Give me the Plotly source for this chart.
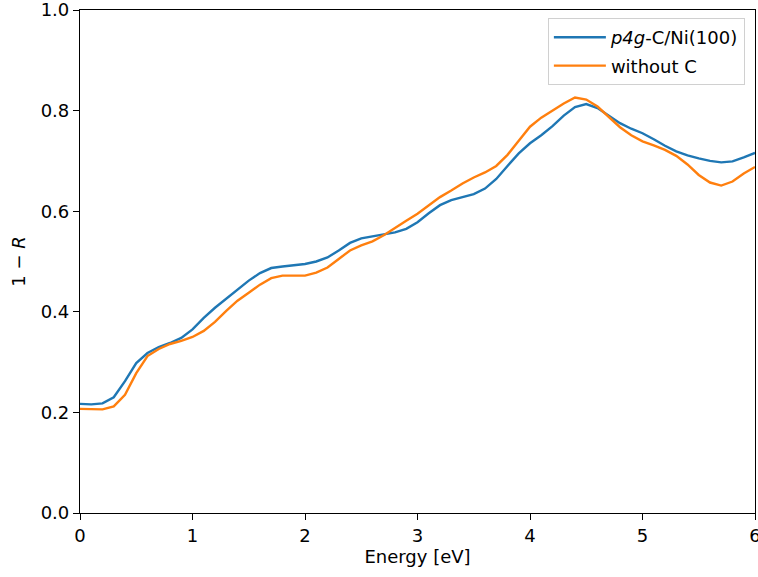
import plotly.graph_objects as go

energy = [round(0.1 * i, 1) for i in range(61)]

p4g_c_ni100 = [
    0.217, 0.216, 0.218, 0.230, 0.262, 0.298, 0.318, 0.330, 0.338, 0.348,
    0.365, 0.388, 0.408, 0.426, 0.444, 0.462, 0.477, 0.487, 0.490, 0.492,
    0.495, 0.500, 0.508, 0.522, 0.537, 0.546, 0.550, 0.554, 0.558, 0.565,
    0.578, 0.596, 0.612, 0.622, 0.628, 0.634, 0.645, 0.664, 0.690, 0.715,
    0.735, 0.751, 0.769, 0.790, 0.807, 0.813, 0.805, 0.790, 0.775, 0.764,
    0.755, 0.743, 0.730, 0.719, 0.711, 0.705, 0.700, 0.697, 0.699, 0.707,
    0.716,
]

without_c = [
    0.207, 0.206, 0.206, 0.212, 0.235, 0.278, 0.312, 0.326, 0.336, 0.342,
    0.350, 0.362, 0.380, 0.402, 0.422, 0.438, 0.454, 0.467, 0.472, 0.472,
    0.472, 0.478, 0.488, 0.505, 0.522, 0.532, 0.540, 0.552, 0.567, 0.581,
    0.595, 0.612, 0.628, 0.641, 0.655, 0.667, 0.677, 0.690, 0.712, 0.740,
    0.768, 0.786, 0.800, 0.814, 0.826, 0.822, 0.808, 0.787, 0.767, 0.751,
    0.739, 0.731, 0.722, 0.710, 0.693, 0.672, 0.657, 0.651, 0.659, 0.675,
    0.688,
]

x_ticks = [0, 1, 2, 3, 4, 5, 6]
y_ticks = [0.0, 0.2, 0.4, 0.6, 0.8, 1.0]
y_tick_labels = ["0.0", "0.2", "0.4", "0.6", "0.8", "1.0"]

FONT = "DejaVu Sans"

fig = go.Figure()
fig.add_trace(go.Scatter(x=energy, y=p4g_c_ni100, mode="lines",
                         name="<i>p4g</i>-C/Ni(100)", legendgroup="a",
                         line=dict(color="#1f77b4", width=2.4)))
fig.add_trace(go.Scatter(x=energy, y=without_c, mode="lines",
                         name="without C", legendgroup="b",
                         line=dict(color="#ff7f0e", width=2.4)))

axis_common = dict(showline=True, linecolor="black", linewidth=1.2, mirror=True,
                   ticks="outside", ticklen=6, tickwidth=1.2, tickcolor="black",
                   showgrid=False, zeroline=False, ticklabeloverflow="allow",
                   automargin=False,
                   tickfont=dict(family=FONT, size=18, color="black"))

fig.update_layout(
    width=758, height=577,
    margin=dict(l=80, r=3, t=10, b=64),
    paper_bgcolor="white", plot_bgcolor="white",
    font=dict(family=FONT, size=18, color="black"),
    showlegend=True,
    legend=dict(x=0.985, y=0.984, xanchor="right", yanchor="top",
                bordercolor="#d0d0d0", borderwidth=1, bgcolor="rgba(255,255,255,0.8)",
                font=dict(family=FONT, size=18, color="black"),
                itemwidth=52, tracegroupgap=2),
    xaxis=dict(range=[0, 6], tickvals=x_ticks, ticktext=[str(t) for t in x_ticks],
               title=dict(text="Energy [eV]", standoff=4,
                          font=dict(family=FONT, size=18)),
               **axis_common),
    yaxis=dict(range=[0, 1], tickvals=y_ticks, ticktext=y_tick_labels,
               title=dict(text="1 − <i>R</i>", standoff=10,
                          font=dict(family=FONT, size=18)),
               **axis_common),
)

fig.write_html(
    "out.html",
    config={"responsive": False, "displayModeBar": False},
    post_script="document.body.style.margin='0';document.body.style.overflow='hidden';",
)
